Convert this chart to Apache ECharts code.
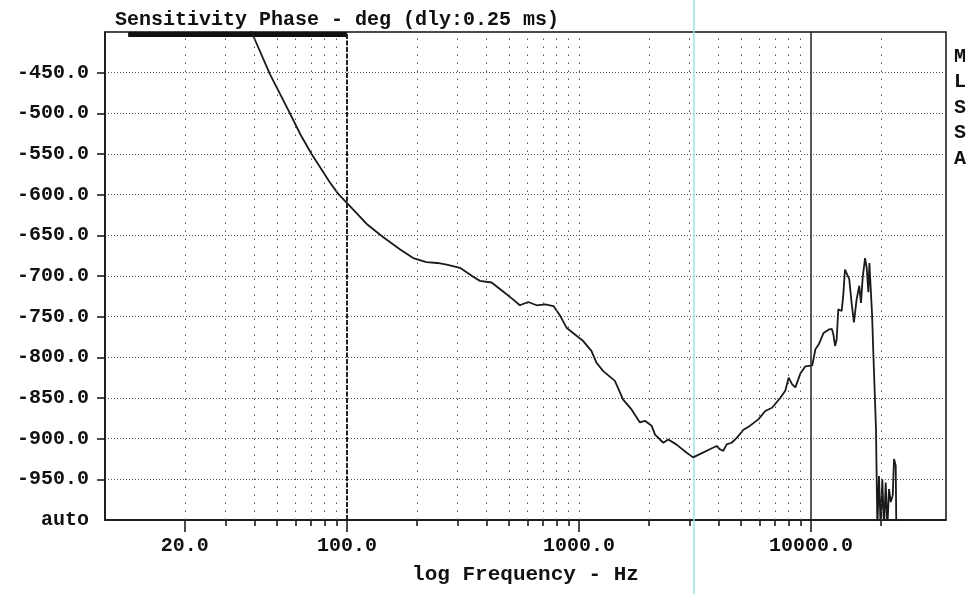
<!DOCTYPE html>
<html>
<head>
<meta charset="utf-8">
<title>Sensitivity Phase</title>
<script src="https://cdn.jsdelivr.net/npm/echarts@6.0.0/dist/echarts.min.js"></script>
<style>
  html, body { margin: 0; padding: 0; background: #fff; }
  #chart { width: 978px; height: 594px; }
</style>
</head>
<body>
<div id="chart"></div>
<script>
// phase curve (Hz, degrees)
var freqHz = [37.5, 38.8, 46.6, 56.8, 63, 70.4, 76.5, 84, 91.7, 103, 121.6, 143, 169, 193, 220, 245, 269, 307,
  350, 374, 420, 471, 521, 556, 604, 657, 715, 776, 830, 886, 961, 1043, 1131, 1192, 1272, 1428,
  1550, 1684, 1831, 1923, 2055, 2127, 2233, 2309, 2425, 2625, 2904, 3103, 3317, 3664, 3918, 4050,
  4188, 4330, 4551, 4785, 5116, 5470, 5941, 6352, 6791, 7367, 7747, 8009, 8282, 8562, 8996, 9460,
  10120, 10450, 10800, 11330, 11900, 12300, 12490, 12700, 12900, 13110, 13560, 13780, 14010, 14240,
  14620, 14960, 15310, 15720, 16140, 16420, 16700, 17100, 17380, 17670, 17850, 18150, 18330, 18560,
  19060, 19320, 19630, 19970, 20290, 20640, 20990, 21330, 21690, 22060, 22500, 22790, 23180, 23320]
var phaseDeg = [-388, -400, -452, -500, -526, -550, -566, -584, -599, -614, -636, -652, -667, -678, -683, -684, -686, -690,
  -701, -706, -708, -719, -729, -736, -732, -736, -735, -737, -749, -764, -772, -780, -792, -807, -817, -829,
  -852, -864, -880, -878, -884, -895, -901, -905, -901, -907, -917, -923, -919, -913, -909, -913,
  -915, -907, -905, -899, -889, -884, -876, -866, -862, -850, -841, -825, -833, -837, -820, -811,
  -810, -790, -784, -770, -766, -765, -772, -786, -778, -741, -743, -723, -692, -690,
  -704, -733, -757, -729, -712, -733, -702, -678, -690, -720, -684, -686, -747, -794,
  -888, -1010, -946, -1010, -950, -1010, -954, -1010, -962, -978, -970, -925, -933, -1010]

var gridFreqs = [20, 30, 40, 50, 60, 70, 80, 90, 200, 300, 400, 500, 600, 700, 800, 900, 1000,
  2000, 3000, 4000, 5000, 6000, 7000, 8000, 9000, 20000]
var majorTickFreqs = [20, 100, 1000, 10000]
var minorTickFreqs = [30, 40, 50, 60, 70, 80, 90, 200, 300, 400, 500, 600, 700, 800, 900,
  2000, 3000, 4000, 5000, 6000, 7000, 8000, 9000, 20000]
var yTickValues = [-450, -500, -550, -600, -650, -700, -750, -800, -850, -900, -950, -1000]
var markerFreqs = [100, 10000]
var barRange = [11.4, 100]
var cursorFreq = 3130
var xMin = 9.06, xMax = 38180

var labelFont = 'Liberation Mono'
var chart = echarts.init(document.getElementById('chart'))

var points = []
for (var i = 0; i < freqHz.length; i++) {
  points.push([freqHz[i], phaseDeg[i]])
}

var sideText = {
  type: 'text', left: 954, top: 44,
  style: {
    text: 'M\nL\nS\nS\nA', fontFamily: labelFont, fontSize: 20, fontWeight: 'bold',
    fill: '#111', lineHeight: 25.5, textAlign: 'center'
  }
}

chart.setOption({
  animation: false,
  backgroundColor: '#fff',
  title: {
    text: 'Sensitivity Phase - deg (dly:0.25 ms)',
    left: 110,
    top: 5,
    textStyle: { fontFamily: labelFont, fontSize: 20, fontWeight: 'bold', color: '#111' }
  },
  grid: {
    left: 105, right: 32, top: 32, bottom: 74,
    show: true, borderColor: '#111', borderWidth: 1.5, backgroundColor: 'transparent'
  },
  xAxis: [
    {
      type: 'log', min: xMin, max: xMax,
      name: 'log Frequency - Hz',
      nameLocation: 'middle',
      nameGap: 44,
      nameTextStyle: { fontFamily: labelFont, fontSize: 21, fontWeight: 'bold', color: '#111' },
      axisLine: { lineStyle: { color: '#111', width: 1.5 } },
      axisTick: { customValues: majorTickFreqs, length: 12, lineStyle: { color: '#111', width: 1.5 } },
      axisLabel: {
        customValues: majorTickFreqs,
        margin: 16,
        fontFamily: labelFont, fontSize: 20, fontWeight: 'bold', color: '#111',
        formatter: function (v) { return Number(v).toFixed(1) }
      },
      splitLine: { show: false }
    },
    {
      type: 'log', min: xMin, max: xMax, position: 'bottom',
      axisLine: { show: false },
      axisTick: { customValues: minorTickFreqs, length: 6, lineStyle: { color: '#111', width: 1.5 } },
      axisLabel: { show: false },
      splitLine: { show: false }
    }
  ],
  yAxis: {
    type: 'value', min: -1000, max: -400, interval: 50,
    axisLine: { show: true, lineStyle: { color: '#111', width: 1.5 } },
    axisTick: { customValues: yTickValues.slice(0, 11), length: 8, lineStyle: { color: '#111', width: 1.5 } },
    axisLabel: {
      customValues: yTickValues,
      margin: 16,
      fontFamily: labelFont, fontSize: 20, fontWeight: 'bold', color: '#111',
      formatter: function (v) { return v === -1000 ? 'auto' : v.toFixed(1) }
    },
    splitLine: { show: true, lineStyle: { color: '#555', width: 1, type: [1, 2] } }
  },
  graphic: [sideText],
  series: [
    {
      type: 'line',
      data: points,
      showSymbol: false,
      clip: true,
      lineStyle: { color: '#1a1a1a', width: 1.8 },
      markLine: {
        silent: true,
        symbol: 'none',
        label: { show: false },
        lineStyle: { color: '#555', width: 1, type: [1.5, 6.5] },
        data: gridFreqs.map(function (f) { return { xAxis: f } }).concat([
          { xAxis: markerFreqs[0], lineStyle: { color: '#222', width: 2, type: [5, 1.5] } },
          { xAxis: markerFreqs[1], lineStyle: { color: '#222', width: 1.5, type: 'solid' } }
        ])
      },
      markArea: {
        silent: true,
        itemStyle: { color: '#111' },
        data: [[{ xAxis: barRange[0], yAxis: -400 }, { xAxis: barRange[1], yAxis: -406 }]]
      }
    }
  ]
})

// cyan cursor line across the whole sheet at the cursor frequency
var cx = chart.convertToPixel({ xAxisIndex: 0 }, cursorFreq)
chart.setOption({
  graphic: [
    sideText,
    {
      type: 'line', z: 1,
      shape: { x1: cx, y1: 0, x2: cx, y2: 594 },
      style: { stroke: '#9fe0ec', lineWidth: 1.5 }
    }
  ]
})
</script>
</body>
</html>
